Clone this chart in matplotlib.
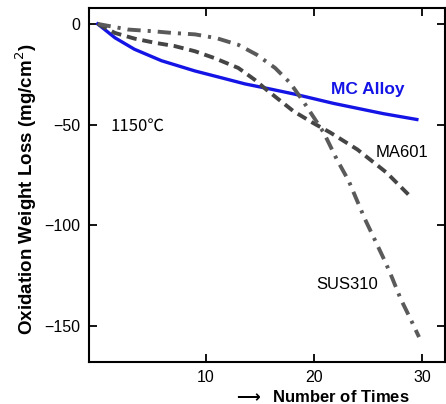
import numpy as np
import matplotlib.pyplot as plt

# values
mc_x = [0, 1.6, 3.4, 5.9, 9, 11.6, 13.6, 15.9, 18.2, 21.8, 26.4, 29.5]
mc_y = [0, -6.9, -12.6, -18.3, -23.4, -27.0, -29.8, -32.3, -34.9, -39.5, -44.6, -47.5]

ma_x = [0, 1.6, 3.4, 5.3, 7.1, 9, 10.8, 13, 14.5, 15.6, 18.1, 19.9, 21.5,
        24, 26.7, 29]
ma_y = [0, -4.5, -7.3, -9.4, -11, -13.6, -17, -21.9, -27.7, -32.7, -43.4,
        -49.2, -54, -62.4, -73.9, -86.3]

sus_x = [0, 2.8, 5, 6.9, 9, 11, 13, 14.7, 16.4, 17.8, 19, 20.1, 20.9, 22.1,
         23.2, 24.7, 25.5, 26.6, 27.2, 28, 28.9, 29.7]
sus_y = [0, -2.8, -3.6, -4.5, -5.2, -7.1, -10.4, -15.3, -21.9, -29.4, -38.5,
         -47.5, -54.1, -67.3, -78, -97, -106, -118.5, -126, -136.6, -146.5, -155.6]

x_ticks = [10, 20, 30]
y_ticks = [0, -50, -100, -150]

plt.rcParams['font.family'] = ['Liberation Sans', 'DejaVu Sans']

fig = plt.figure(figsize=(4.46, 4.04), dpi=100)
ax = fig.add_axes([89 / 446, 1 - 362 / 404, 356 / 446, 354 / 404])

ax.plot(mc_x, mc_y, color='#1414e6', lw=2.4)
ax.plot(ma_x, ma_y, color='#454545', lw=2.8, linestyle=(0, (2.6, 1.5)),
        dash_capstyle='butt')
ax.plot(sus_x, sus_y, color='#5a5a5a', lw=2.8, linestyle=(0, (3.4, 1.8, 0.8, 1.8)),
        dash_capstyle='butt')

ax.set_xlim(-0.8, 32.1)
ax.set_ylim(-168, 7.9)
ax.set_xticks(x_ticks)
ax.set_yticks(y_ticks)
ax.set_yticklabels(['0', '\u221250', '\u2212100', '\u2212150'])
ax.tick_params(direction='in', length=6, width=1.3, top=True, right=True,
               labelsize=11.5, pad=6)
for s in ax.spines.values():
    s.set_linewidth(1.5)

ax.text(25.0, -32.7, 'MC Alloy', color='#1414e6', fontsize=12.5,
        fontweight='bold', ha='center', va='center')
ax.text(28.1, -64, 'MA601', fontsize=12, ha='center', va='center')
ax.text(25.9, -129.5, 'SUS310', fontsize=12, ha='right', va='center')
ax.text(1.2, -51, '1150\u2103', fontsize=12, ha='left', va='center',
        family=['Noto Sans CJK JP', 'DejaVu Sans'])

fig.text(26 / 446, 1 - 189 / 404, 'Oxidation Weight Loss (mg/cm$^2$)',
         fontsize=13.5, fontweight='bold', rotation=90, ha='center', va='center')
fig.text(321 / 446, 1 - 397 / 404, '$\\mathbf{\\longrightarrow}$  Number of Times',
         fontsize=12, fontweight='bold', ha='center', va='center')

fig.savefig('out.png', dpi=100)
